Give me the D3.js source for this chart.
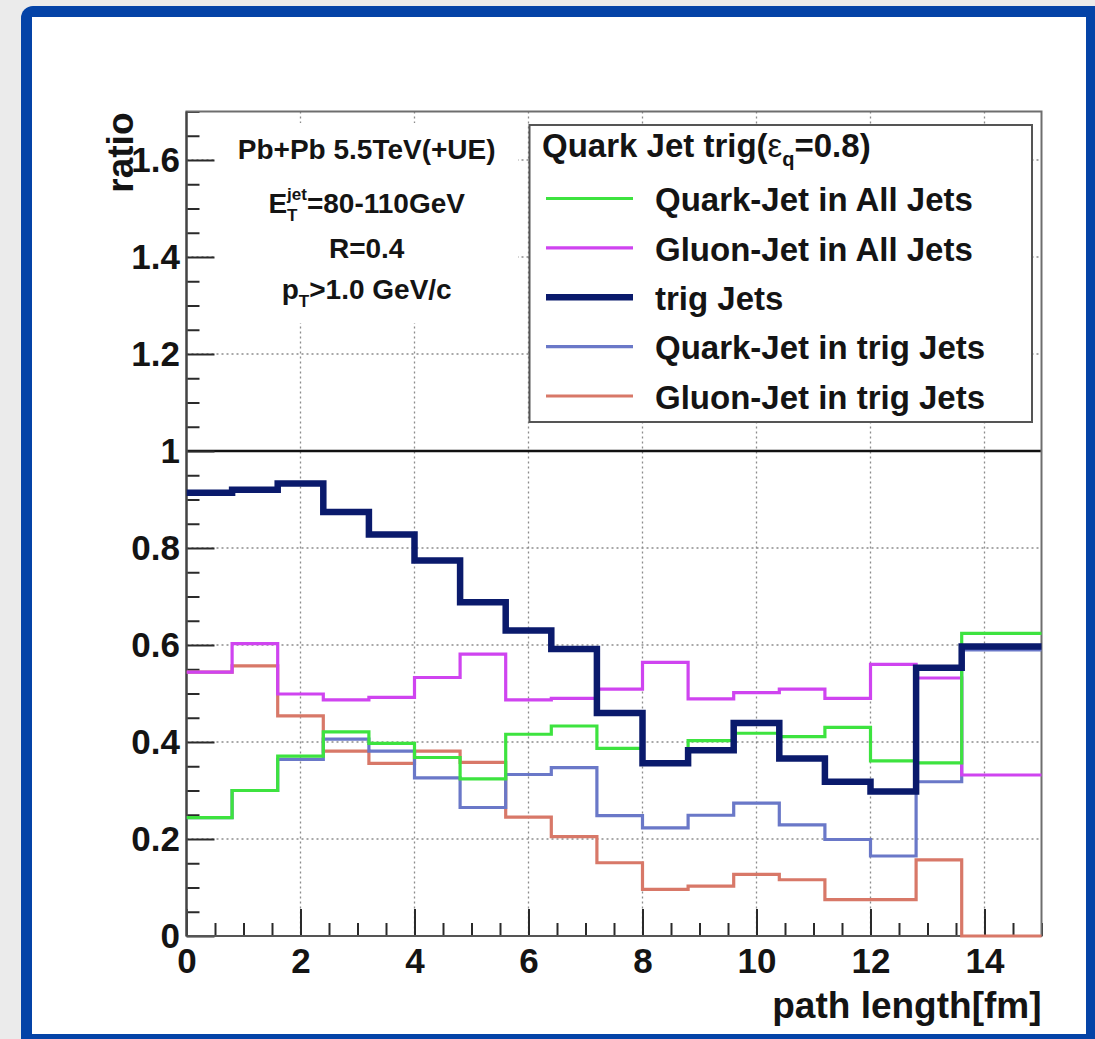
<!DOCTYPE html>
<html>
<head>
<meta charset="utf-8">
<script src="https://cdn.jsdelivr.net/npm/d3@7"></script>
<style>
  html, body { margin: 0; padding: 0; background: #ebebeb; }
  svg { display: block; }
  text { font-family: "Liberation Sans", Arial, Helvetica, sans-serif; font-weight: bold; fill: #141414; }
</style>
</head>
<body>
<svg id="chart" width="1095" height="1039"></svg>
<script>
// ---- histogram binning (low edge of each bin, fm) ----
const binLowEdges = [0, 0.8, 1.6, 2.4, 3.2, 4.0, 4.8, 5.6, 6.4, 7.2, 8.0, 8.8, 9.6, 10.4, 11.2, 12.0, 12.8, 13.6, 14.4];
const binWidth = 0.8;

// ---- ratios per bin ----
const quarkInAllJets  = [0.244, 0.300, 0.371, 0.421, 0.397, 0.368, 0.324, 0.416, 0.433, 0.387, 0.359, 0.403, 0.418, 0.411, 0.430, 0.361, 0.357, 0.624, 0.624];
const gluonInAllJets  = [0.544, 0.603, 0.499, 0.487, 0.492, 0.533, 0.581, 0.487, 0.490, 0.509, 0.564, 0.489, 0.502, 0.509, 0.490, 0.560, 0.532, 0.332, 0.332];
const trigJets        = [0.914, 0.920, 0.933, 0.874, 0.828, 0.774, 0.688, 0.630, 0.592, 0.460, 0.356, 0.383, 0.439, 0.366, 0.318, 0.298, 0.553, 0.597, 0.597];
const quarkInTrigJets = [0.244, 0.300, 0.364, 0.406, 0.381, 0.326, 0.265, 0.333, 0.347, 0.248, 0.223, 0.249, 0.274, 0.229, 0.199, 0.165, 0.318, 0.590, 0.590];
const gluonInTrigJets = [0.544, 0.557, 0.454, 0.381, 0.356, 0.381, 0.358, 0.245, 0.205, 0.151, 0.096, 0.103, 0.127, 0.116, 0.075, 0.075, 0.157, 0.0, 0.0];

// ---- axes ----
const xTickValues = [0, 2, 4, 6, 8, 10, 12, 14];
const xTickLabels = ["0", "2", "4", "6", "8", "10", "12", "14"];
const yTickValues = [0, 0.2, 0.4, 0.6, 0.8, 1.0, 1.2, 1.4, 1.6];
const yTickLabels = ["0", "0.2", "0.4", "0.6", "0.8", "1", "1.2", "1.4", "1.6"];
const xMinorStep = 0.5;
const yMinorStep = 0.05;
const referenceLevel = 1;

// ---- legend text ----
const legendLabels = ["Quark-Jet in All Jets", "Gluon-Jet in All Jets", "trig Jets", "Quark-Jet in trig Jets", "Gluon-Jet in trig Jets"];

// ---- drawing styles ----
const seriesStyle = [
  { values: quarkInAllJets,  color: "#3de33f", width: 3.2 },
  { values: gluonInAllJets,  color: "#cf44f0", width: 3.2 },
  { values: trigJets,        color: "#0a1a6c", width: 6.5 },
  { values: quarkInTrigJets, color: "#6a78c8", width: 3.2 },
  { values: gluonInTrigJets, color: "#d87868", width: 3.2 }
];
// drawing order, back to front
const drawOrder = [4, 3, 1, 0, 2];

const svg = d3.select("#chart");

// ---- page frame ----
svg.append("rect").attr("x", 0).attr("y", 0).attr("width", 1095).attr("height", 1039).attr("fill", "#ebebeb");
svg.append("rect").attr("x", 21).attr("y", 6).attr("width", 1110).attr("height", 1060)
  .attr("rx", 12).attr("fill", "#0443a7");
svg.append("rect").attr("x", 32).attr("y", 17).attr("width", 1054).attr("height", 1017).attr("fill", "#ffffff");

// ---- scales ----
const x = d3.scaleLinear().domain([0, 15]).range([186.5, 1041.5]);
const y = d3.scaleLinear().domain([0, 1.7]).range([936, 111.5]);
const [x0, x1] = x.range();
const [yb, yt] = y.range();

svg.append("defs").append("clipPath").attr("id", "plotClip")
  .append("rect").attr("x", x0).attr("y", yt).attr("width", x1 - x0).attr("height", yb - yt + 3);

// ---- grid ----
const grid = svg.append("g").attr("stroke", "#8c8c8c").attr("stroke-width", 1.3).attr("stroke-dasharray", "2,3");
grid.selectAll("line.gx").data(xTickValues.filter(v => v > 0)).join("line")
  .attr("x1", d => x(d)).attr("x2", d => x(d)).attr("y1", yt).attr("y2", yb);
grid.selectAll("line.gy").data(yTickValues.filter(v => v > 0)).join("line")
  .attr("x1", x0).attr("x2", x1).attr("y1", d => y(d)).attr("y2", d => y(d));

// reference line at ratio = 1
svg.append("line").attr("x1", x0).attr("x2", x1).attr("y1", y(referenceLevel)).attr("y2", y(referenceLevel))
  .attr("stroke", "#111").attr("stroke-width", 2.6);

// ---- info box (white, borderless) ----
svg.append("rect").attr("x", 215).attr("y", 123).attr("width", 303).attr("height", 200).attr("fill", "#fff");
const info = svg.append("g").attr("font-size", 28).attr("text-anchor", "middle");
const infoX = 366.7;
info.append("text").attr("x", infoX).attr("y", 158.5).text("Pb+Pb 5.5TeV(+UE)");
const et = info.append("text").attr("x", infoX).attr("y", 212.5);
et.append("tspan").text("E");
et.append("tspan").attr("font-size", 17).attr("dy", 8).text("T");
et.append("tspan").attr("font-size", 17).attr("dx", -10.4).attr("dy", -21).text("jet");
et.append("tspan").attr("dy", 13).text("=80-110GeV");
info.append("text").attr("x", infoX).attr("y", 257.5).text("R=0.4");
const pt = info.append("text").attr("x", infoX).attr("y", 299);
pt.append("tspan").text("p");
pt.append("tspan").attr("font-size", 17).attr("dy", 8).text("T");
pt.append("tspan").attr("dy", -8).text(">1.0 GeV/c");

// ---- axes ----
const axisColor = "#2a2a2a";
const yMinor = d3.range(0, 1.7 + 1e-9, yMinorStep).filter(v => !yTickValues.some(t => Math.abs(t - v) < 1e-6));
const xMinor = d3.range(0, 15 + 1e-9, xMinorStep).filter(v => !xTickValues.some(t => Math.abs(t - v) < 1e-6));

const yAxis = svg.append("g").attr("transform", `translate(${x0},0)`)
  .call(d3.axisLeft(y).tickValues(yTickValues).tickSize(-28).tickPadding(6.5)
    .tickFormat((d, i) => yTickLabels[i]));
const yAxisMinor = svg.append("g").attr("transform", `translate(${x0},0)`)
  .call(d3.axisLeft(y).tickValues(yMinor).tickSize(-13).tickFormat(""));
const xAxis = svg.append("g").attr("transform", `translate(0,${yb})`)
  .call(d3.axisBottom(x).tickValues(xTickValues).tickSize(-27).tickPadding(12)
    .tickFormat((d, i) => xTickLabels[i]));
const xAxisMinor = svg.append("g").attr("transform", `translate(0,${yb})`)
  .call(d3.axisBottom(x).tickValues(xMinor).tickSize(-13).tickFormat(""));

[yAxis, yAxisMinor, xAxis, xAxisMinor].forEach(g => {
  g.select(".domain").remove();
  g.selectAll(".tick line").attr("stroke", axisColor).attr("stroke-width", 2);
  g.selectAll(".tick text").attr("font-size", 35).attr("fill", "#141414")
    .style("font-family", '"Liberation Sans", Arial, Helvetica, sans-serif').style("font-weight", "bold");
});

// plot frame
svg.append("rect").attr("x", x0).attr("y", yt).attr("width", x1 - x0).attr("height", yb - yt)
  .attr("fill", "none").attr("stroke", "#6e6e6e").attr("stroke-width", 2);
svg.append("line").attr("x1", x0).attr("x2", x1).attr("y1", yb).attr("y2", yb).attr("stroke", "#555").attr("stroke-width", 2.2);
svg.append("line").attr("x1", x0).attr("x2", x0).attr("y1", yt).attr("y2", yb).attr("stroke", "#444").attr("stroke-width", 2.2);

// axis titles
svg.append("text").attr("x", x1).attr("y", 1018).attr("text-anchor", "end").attr("font-size", 37)
  .text("path length[fm]");
svg.append("text").attr("transform", `translate(133,${yt + 1}) rotate(-90)`).attr("text-anchor", "end")
  .attr("font-size", 37).text("ratio");

// ---- histograms ----
const stepLine = d3.line().x(d => x(d[0])).y(d => y(d[1])).curve(d3.curveStepAfter);
const hist = svg.append("g").attr("clip-path", "url(#plotClip)");
drawOrder.forEach(si => {
  const s = seriesStyle[si];
  const pts = binLowEdges.map((e, i) => [e, s.values[i]]);
  pts.push([binLowEdges[binLowEdges.length - 1] + binWidth, s.values[s.values.length - 1]]);
  hist.append("path").attr("d", stepLine(pts)).attr("fill", "none")
    .attr("stroke", s.color).attr("stroke-width", s.width)
    .attr("stroke-linejoin", "miter").attr("stroke-linecap", "butt");
});

// ---- legend ----
const legend = svg.append("g");
legend.append("rect").attr("x", 529.5).attr("y", 125).attr("width", 502.5).attr("height", 297)
  .attr("fill", "#fff").attr("stroke", "#555").attr("stroke-width", 2);
const title = legend.append("text").attr("x", 542).attr("y", 157).attr("font-size", 33);
title.append("tspan").text("Quark Jet trig(");
title.append("tspan").attr("font-weight", "normal").style("font-weight", "normal").text("ε");
title.append("tspan").attr("font-size", 20).attr("dy", 9).text("q");
title.append("tspan").attr("dy", -9).text("=0.8)");

const rowY = d3.scaleLinear().domain([0, legendLabels.length - 1]).range([199.5, 397]);
legendLabels.forEach((lab, i) => {
  const s = seriesStyle[i];
  legend.append("line").attr("x1", 546).attr("x2", 633).attr("y1", rowY(i) - 1).attr("y2", rowY(i) - 1)
    .attr("stroke", s.color).attr("stroke-width", s.width);
  legend.append("text").attr("x", 655).attr("y", rowY(i) + 11.8).attr("font-size", 33).text(lab);
});
</script>
</body>
</html>
